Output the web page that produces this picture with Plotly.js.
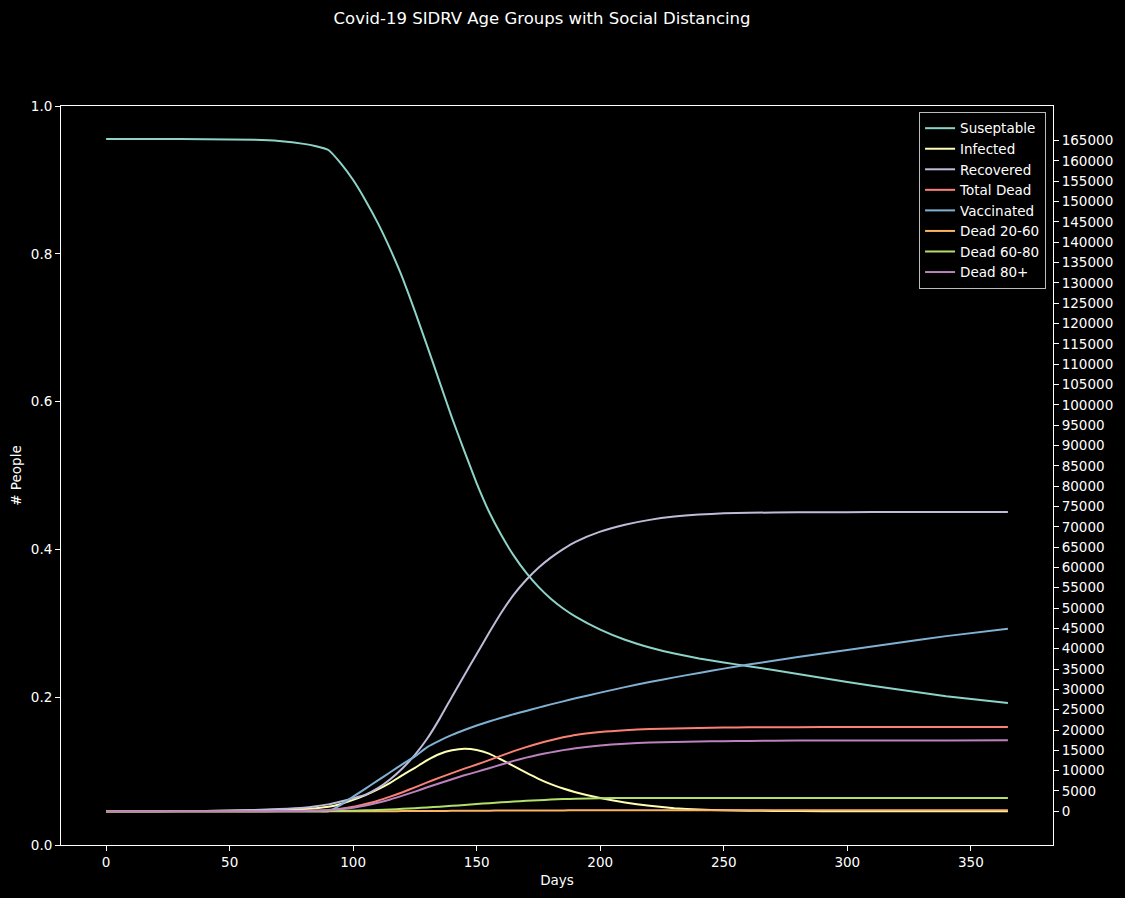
<!DOCTYPE html>
<html>
<head>
<meta charset="utf-8">
<script src="https://cdn.plot.ly/plotly-3.0.1.min.js"></script>
<style>
  body { margin: 0; background: #000; }
  #chart { width: 1125px; height: 898px; }
</style>
</head>
<body>
<div id="chart"></div>
<script>
// days the values were read at
const days = [0, 20, 40, 60, 70, 80, 85, 90, 95, 100, 105, 110, 115, 120, 125, 130, 135, 140, 145, 150,
  155, 160, 165, 170, 175, 180, 185, 190, 200, 210, 220, 230, 240, 250, 260, 280, 300, 320, 340, 365];

const suseptable = [165400, 165400, 165350, 165200, 164900, 164200, 163600, 162700, 159400, 155300,
  150300, 144700, 138300, 131200, 123000, 114400, 105600, 96800, 88600, 80700,
  73700, 67900, 62900, 58700, 55200, 52300, 49900, 47900, 44700, 42200,
  40300, 38800, 37600, 36600, 35700, 33800, 31800, 30000, 28300, 26650];

const infected = [20, 40, 90, 230, 370, 580, 780, 1100, 1800, 2800,
  4000, 5400, 7000, 8900, 10700, 12600, 14100, 15000, 15400, 15100,
  14200, 12700, 11100, 9500, 8000, 6700, 5600, 4700, 3250, 2150,
  1350, 780, 430, 240, 140, 50, 20, 10, 5, 2];

const recovered = [0, 30, 100, 300, 550, 900, 1250, 1700, 2400, 3200,
  4100, 5700, 7900, 10600, 13900, 17900, 22800, 28200, 33500, 38700,
  43900, 48900, 53300, 56900, 59900, 62400, 64500, 66300, 68800, 70500,
  71700, 72500, 73000, 73300, 73450, 73550, 73600, 73610, 73620, 73620];

const totalDead = [0, 0, 10, 30, 60, 110, 200, 350, 650, 1100,
  1800, 2600, 3600, 4700, 5900, 7100, 8300, 9400, 10500, 11500,
  12600, 13700, 14800, 15800, 16700, 17500, 18200, 18800, 19500, 19950,
  20250, 20400, 20500, 20600, 20650, 20700, 20730, 20740, 20750, 20750];

const vaccinated = [0, 0, 0, 0, 0, 0, 0, 0, 1600, 3600,
  5600, 7600, 9600, 11600, 13500, 15800, 17400, 18800, 20000, 21100,
  22100, 23000, 23900, 24700, 25500, 26300, 27050, 27800, 29200, 30550,
  31800, 32950, 34050, 35100, 36100, 37950, 39700, 41400, 43100, 44930];

const dead2060 = [0, 0, 0, 1, 2, 3, 4, 5, 8, 12,
  18, 26, 36, 48, 62, 78, 95, 112, 130, 146,
  162, 177, 190, 202, 212, 221, 228, 234, 242, 247,
  250, 252, 252, 252, 252, 252, 252, 252, 252, 252];

const dead6080 = [0, 0, 2, 6, 10, 20, 30, 50, 90, 150,
  230, 330, 460, 610, 780, 960, 1150, 1350, 1560, 1780,
  2000, 2200, 2400, 2580, 2740, 2880, 3000, 3100, 3220, 3270,
  3290, 3300, 3300, 3300, 3300, 3300, 3300, 3300, 3300, 3300];

const dead80 = [0, 0, 8, 25, 50, 90, 160, 290, 550, 900,
  1450, 2100, 2900, 3850, 4850, 5900, 6900, 7900, 8850, 9700,
  10600, 11500, 12400, 13200, 13900, 14500, 15050, 15500, 16200, 16650,
  16920, 17080, 17180, 17260, 17320, 17390, 17420, 17440, 17450, 17460];

const seriesNames = ['Suseptable', 'Infected', 'Recovered', 'Total Dead', 'Vaccinated',
  'Dead 20-60', 'Dead 60-80', 'Dead 80+'];
const seriesValues = [suseptable, infected, recovered, totalDead, vaccinated, dead2060, dead6080, dead80];
// matplotlib dark_background colour cycle
const colors = ['#8dd3c7', '#feffb3', '#bfbbd9', '#fa8174', '#81b1d2', '#fdb462', '#b3de69', '#bc82bd'];

const xTicks = [0, 50, 100, 150, 200, 250, 300, 350];
const leftTicks = [0, 0.2, 0.4, 0.6, 0.8, 1.0];
const rightTicks = [];
for (let v = 0; v <= 165000; v += 5000) rightTicks.push(v);

const font = 'DejaVu Sans, sans-serif';

var traces = seriesNames.map(function (name, i) {
  return {
    x: days,
    y: seriesValues[i],
    name: name,
    type: 'scatter',
    mode: 'lines',
    yaxis: 'y2',
    line: {color: colors[i], width: 2, shape: 'spline', smoothing: 0.5},
    hoverinfo: 'skip'
  };
});
// keep the day-90 kink fairly sharp
traces[0].line.smoothing = 0.35;

// empty trace so the left axis gets drawn
traces.push({x: [], y: [], type: 'scatter', yaxis: 'y', showlegend: false});

var axisBase = {
  color: '#ffffff',
  showgrid: false,
  zeroline: false,
  showline: true,
  linecolor: '#ffffff',
  linewidth: 1,
  ticks: 'outside',
  ticklen: 5,
  tickwidth: 1,
  tickcolor: '#ffffff',
  tickfont: {family: font, size: 13.5, color: '#ffffff'}
};

var layout = {
  width: 1125,
  height: 898,
  paper_bgcolor: '#000000',
  plot_bgcolor: '#000000',
  margin: {l: 61, r: 72, t: 106, b: 53, pad: 0},
  title: {
    text: 'Covid-19 SIDRV Age Groups with Social Distancing',
    font: {family: font, size: 16.5, color: '#ffffff'},
    x: 542 / 1125, xanchor: 'center',
    y: 1 - 18 / 898, yanchor: 'middle', yref: 'container'
  },
  xaxis: Object.assign({}, axisBase, {
    range: [-18.25, 383.25],
    tickvals: xTicks,
    mirror: true,
    title: {text: 'Days', font: {family: font, size: 13.5, color: '#ffffff'}, standoff: 6}
  }),
  yaxis: Object.assign({}, axisBase, {
    range: [0, 1],
    tickvals: leftTicks,
    tickformat: '.1f',
    title: {text: '# People', font: {family: font, size: 13.5, color: '#ffffff'}, standoff: 6}
  }),
  yaxis2: Object.assign({}, axisBase, {
    overlaying: 'y',
    side: 'right',
    range: [-8290, 173520],
    tickvals: rightTicks,
    tickformat: 'd'
  }),
  legend: {
    x: 0.993, xanchor: 'right',
    y: 0.992, yanchor: 'top',
    bgcolor: '#000000',
    bordercolor: '#bbbbbb',
    borderwidth: 1,
    font: {family: font, size: 13.5, color: '#ffffff'},
    tracegroupgap: 0
  },
  showlegend: true,
  hovermode: false
};

Plotly.newPlot(document.getElementById('chart'), traces, layout, {displayModeBar: false, staticPlot: true});
</script>
</body>
</html>
